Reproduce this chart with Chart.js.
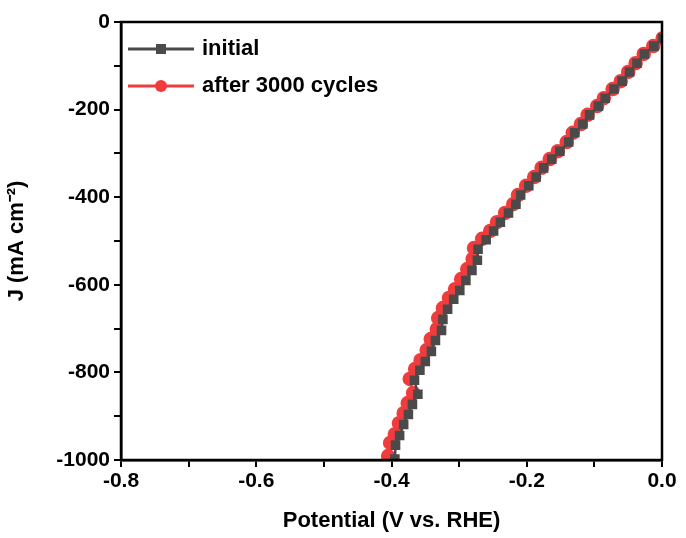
<!DOCTYPE html>
<html>
<head>
<meta charset="utf-8">
<script src="https://cdn.jsdelivr.net/npm/chart.js@4.4.1/dist/chart.umd.min.js"></script>
<style>
  body { margin: 0; background: #fff; }
  #wrap { width: 686px; height: 538px; }
</style>
</head>
<body>
<div id="wrap"><canvas id="c"></canvas></div>
<script>
// Data (V vs. RHE, mA cm-2)
const cycledV = [0.001, -0.013, -0.027, -0.039, -0.050, -0.061, -0.073, -0.086, -0.096, -0.110, -0.120, -0.132, -0.141, -0.154, -0.166, -0.178, -0.189, -0.201, -0.213, -0.220, -0.232, -0.244, -0.254, -0.266, -0.278, -0.280, -0.288, -0.297, -0.306, -0.315, -0.324, -0.331, -0.333, -0.342, -0.348, -0.357, -0.365, -0.373, -0.368, -0.376, -0.382, -0.389, -0.395, -0.402, -0.405];
const cycledJ = [-37, -55, -73, -94, -114, -135, -153, -174, -192, -212, -233, -253, -274, -295, -313, -333, -354, -374, -395, -416, -436, -457, -477, -495, -516, -541, -564, -587, -610, -630, -653, -676, -701, -724, -749, -772, -792, -815, -847, -870, -893, -916, -941, -961, -991];
const initialV = [0.001, -0.012, -0.026, -0.037, -0.048, -0.059, -0.071, -0.084, -0.094, -0.107, -0.117, -0.129, -0.138, -0.151, -0.163, -0.175, -0.186, -0.197, -0.209, -0.216, -0.227, -0.239, -0.249, -0.260, -0.272, -0.273, -0.281, -0.290, -0.299, -0.308, -0.317, -0.324, -0.326, -0.335, -0.341, -0.350, -0.358, -0.366, -0.361, -0.369, -0.375, -0.382, -0.388, -0.394, -0.395];
const initialJ = [-37, -55, -73, -94, -114, -135, -153, -174, -192, -212, -233, -253, -274, -295, -313, -333, -354, -374, -395, -416, -436, -457, -477, -497, -519, -544, -567, -590, -613, -633, -656, -679, -704, -727, -752, -775, -795, -818, -850, -873, -896, -919, -944, -966, -998];
const xTicks = [-0.8, -0.6, -0.4, -0.2, 0.0];
const yTicks = [0, -200, -400, -600, -800, -1000];

const pts = (xs, ys) => xs.map((x, i) => ({ x: x, y: ys[i] }));
const font = { family: 'Liberation Sans', weight: 'bold', size: 21 };

const legendPlugin = {
  id: 'legendBox',
  afterDraw(chart) {
    const ctx = chart.ctx, a = chart.chartArea;
    const items = [['initial', '#4a4a4a', 'rect'], ['after 3000 cycles', '#f03c3c', 'circle']];
    ctx.save();
    ctx.font = 'bold 22px Liberation Sans';
    ctx.textBaseline = 'middle';
    items.forEach((it, i) => {
      const y = a.top + 27 + i * 37, x0 = a.left + 7;
      ctx.strokeStyle = it[1]; ctx.lineWidth = 3;
      ctx.beginPath(); ctx.moveTo(x0, y); ctx.lineTo(x0 + 66, y); ctx.stroke();
      ctx.fillStyle = it[1];
      if (it[2] === 'rect') ctx.fillRect(x0 + 28, y - 5, 10, 10);
      else { ctx.beginPath(); ctx.arc(x0 + 33, y, 6, 0, Math.PI * 2); ctx.fill(); }
      ctx.fillStyle = '#000';
      ctx.fillText(it[0], x0 + 74, y);
    });
    ctx.restore();
  }
};

const frame = {
  id: 'frame',
  afterDraw(chart) {
    const ctx = chart.ctx, a = chart.chartArea;
    ctx.save();
    ctx.strokeStyle = '#000'; ctx.lineWidth = 2.5;
    ctx.strokeRect(a.left, a.top, a.right - a.left, a.bottom - a.top);
    ctx.restore();
  }
};

new Chart(document.getElementById('c'), {
  type: 'scatter',
  data: {
    datasets: [
      {
        label: 'initial', data: pts(initialV, initialJ), showLine: true,
        borderColor: '#4a4a4a', backgroundColor: '#4a4a4a', borderWidth: 2.5,
        pointStyle: 'rect', pointRadius: 5, pointHoverRadius: 5
      },
      {
        label: 'after 3000 cycles', data: pts(cycledV, cycledJ), showLine: true,
        borderColor: '#f03c3c', backgroundColor: '#f03c3c', borderWidth: 2.5,
        pointStyle: 'circle', pointRadius: 6, pointHoverRadius: 6
      }
    ]
  },
  options: {
    responsive: true, maintainAspectRatio: false, animation: false,
    layout: { padding: { top: 22, right: 24 } },
    plugins: { legend: { display: false }, tooltip: { enabled: false } },
    scales: {
      x: {
        type: 'linear', min: -0.8, max: 0,
        afterBuildTicks: s => { s.ticks = [-0.8, -0.7, -0.6, -0.5, -0.4, -0.3, -0.2, -0.1, 0].map(v => ({ value: v })); },
        afterFit: s => { s.height = 78; },
        grid: { drawOnChartArea: false, color: '#000', lineWidth: 2, tickLength: 7, tickColor: '#000' },
        border: { color: '#000', width: 2.5 },
        ticks: {
          color: '#000', font: font, maxRotation: 0, autoSkip: false, padding: 2,
          callback: v => xTicks.some(t => Math.abs(t - v) < 1e-6) ? v.toFixed(1) : ''
        },
        title: { display: true, text: 'Potential (V vs. RHE)', color: '#000', font: { family: 'Liberation Sans', weight: 'bold', size: 22 }, padding: { top: 2 } }
      },
      y: {
        type: 'linear', min: -1000, max: 0,
        afterBuildTicks: s => { s.ticks = [0, -100, -200, -300, -400, -500, -600, -700, -800, -900, -1000].map(v => ({ value: v })); },
        afterFit: s => { s.width = 121; },
        grid: { drawOnChartArea: false, color: '#000', lineWidth: 2, tickLength: 7, tickColor: '#000' },
        border: { color: '#000', width: 2.5 },
        ticks: {
          color: '#000', font: font, autoSkip: false, padding: 4,
          callback: v => yTicks.includes(v) ? String(v) : ''
        },
        title: { display: true, text: 'J (mA cm\u207B\u00B2)', color: '#000', font: { family: 'Liberation Sans', weight: 'bold', size: 22 }, padding: { bottom: 4 } }
      }
    }
  },
  plugins: [legendPlugin, frame]
});
</script>
</body>
</html>
